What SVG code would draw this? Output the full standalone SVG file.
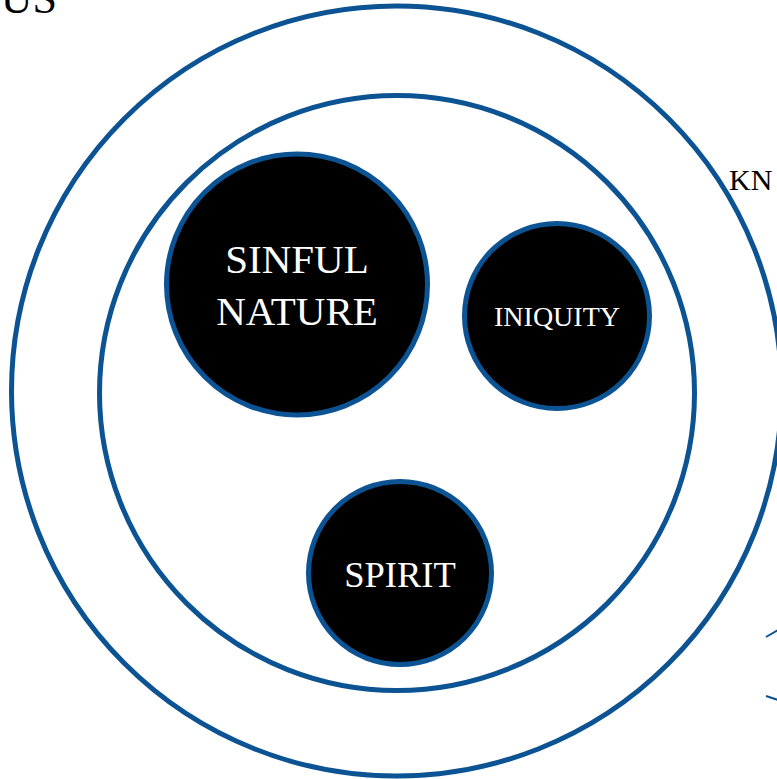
<svg xmlns="http://www.w3.org/2000/svg" width="777" height="779" viewBox="0 0 777 779">
<style>
.ring{fill:none;stroke:#0c5394;stroke-width:5}
.ball{fill:#000;stroke:#0c5394;stroke-width:5}
.lbl{font-family:"Liberation Serif","Times New Roman",serif;fill:#fff;text-anchor:middle}
.out{font-family:"Liberation Serif","Times New Roman",serif;fill:#000}
.conn{stroke:#0c5394;stroke-width:2;fill:none}
</style>
<rect width="777" height="779" fill="#fff"/>
<g id="outer">
<circle class="ring" cx="396.5" cy="391" r="385"/>
</g>
<g id="inner">
<circle class="ring" cx="397" cy="393" r="297.5"/>
</g>
<g id="sinful-nature">
<circle class="ball" cx="297" cy="284.5" r="130.5"/>
<text class="lbl" x="297" y="273" font-size="41">SINFUL</text>
<text class="lbl" x="297" y="325" font-size="41">NATURE</text>
</g>
<g id="iniquity">
<circle class="ball" cx="557" cy="316" r="92.5"/>
<text class="lbl" x="557" y="326" font-size="28">INIQUITY</text>
</g>
<g id="spirit">
<circle class="ball" cx="400" cy="573" r="91.5"/>
<text class="lbl" x="400" y="587" font-size="36.5">SPIRIT</text>
</g>
<g id="label-us">
<text class="out" x="57" y="13" font-size="44" text-anchor="end">US</text>
</g>
<g id="label-kn">
<text class="out" x="729" y="190" font-size="30">KN</text>
</g>
<g id="connectors">
<line class="conn" x1="766" y1="637" x2="778" y2="630"/>
<line class="conn" x1="766" y1="696" x2="778" y2="700"/>
</g>
</svg>
